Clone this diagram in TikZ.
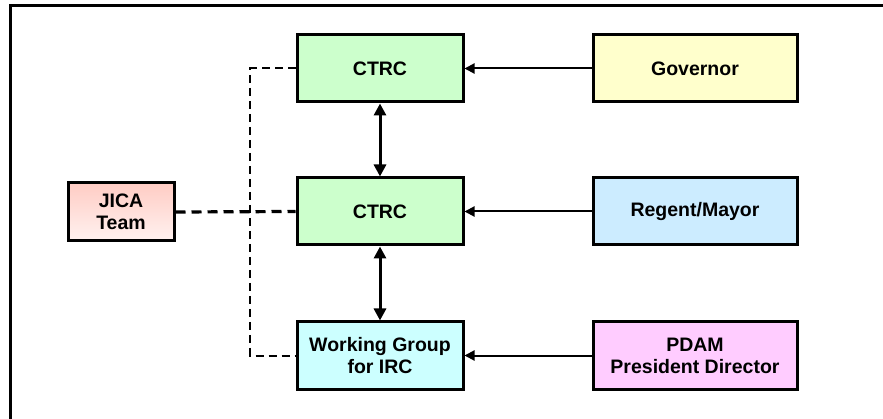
\documentclass[tikz,border=0pt]{standalone}
\usepackage{fontspec}
\setmainfont{Liberation Sans}
\usetikzlibrary{arrows.meta}
\definecolor{ctrcgreen}{HTML}{CCFFCC}
\definecolor{govyellow}{HTML}{FFFFCC}
\definecolor{regentblue}{HTML}{CCECFF}
\definecolor{wgcyan}{HTML}{CCFFFF}
\definecolor{pdampink}{HTML}{FFCCFF}
\definecolor{jicatop}{HTML}{FFCCC4}
\definecolor{jicabot}{HTML}{FFF2F0}
\tikzset{
  box/.style={draw=black, line width=3pt, rectangle, align=center,
    minimum width=166pt, minimum height=67pt, inner sep=0pt,
    font=\fontsize{19.5}{22}\selectfont\bfseries},
  feed/.style={line width=2pt, -{Triangle[length=10pt,width=10pt]}},
  link/.style={line width=3pt, {Triangle[length=12pt,width=12pt]}-{Triangle[length=12pt,width=12pt]}},
  thinlink/.style={line width=2pt, dash pattern=on 8pt off 5pt},
  thicklink/.style={line width=3.2pt, dash pattern=on 10pt off 6pt},
}
\begin{document}
\begin{tikzpicture}[x=1pt,y=-1pt]
  \useasboundingbox (0,0) rectangle (883,419);
  % outer frame (left and top edges)
  \draw[line width=3pt] (10,419) -- (10,6) -- (883,6);

  % centre column
  \node[box, fill=ctrcgreen] (ctrc1) at (380,68.5) {CTRC};
  \node[box, fill=ctrcgreen] (ctrc2) at (380,211.5) {CTRC};
  \node[box, fill=wgcyan] (wg) at (380,355.5) {Working Group\\for IRC};

  % right column
  \node[box, fill=govyellow, minimum width=204pt] (gov) at (695,68.5) {Governor};
  \node[box, fill=regentblue, minimum width=204pt] (reg) at (695,211.5) {Regent/Mayor};
  \node[box, fill=pdampink, minimum width=204pt] (pdam) at (695,355.5) {PDAM\\President Director};

  % JICA team
  \node[box, top color=jicatop, bottom color=jicabot, minimum width=106pt,
        minimum height=58pt] (jica) at (121,212) {JICA\\Team};

  % reporting arrows
  \draw[feed] (gov) -- (ctrc1);
  \draw[feed] (reg) -- (ctrc2);
  \draw[feed] (pdam) -- (wg);

  % two-way links in the centre column
  \draw[link] (ctrc1) -- (ctrc2);
  \draw[link] (ctrc2) -- (wg);

  % JICA team coordination lines
  \coordinate (bus) at (250,211.5);
  \draw[thicklink] (jica.east) -- (ctrc2.west);
  \draw[thinlink] (ctrc1.west) -| (bus |- wg.west) -- (wg.west);
\end{tikzpicture}
\end{document}
